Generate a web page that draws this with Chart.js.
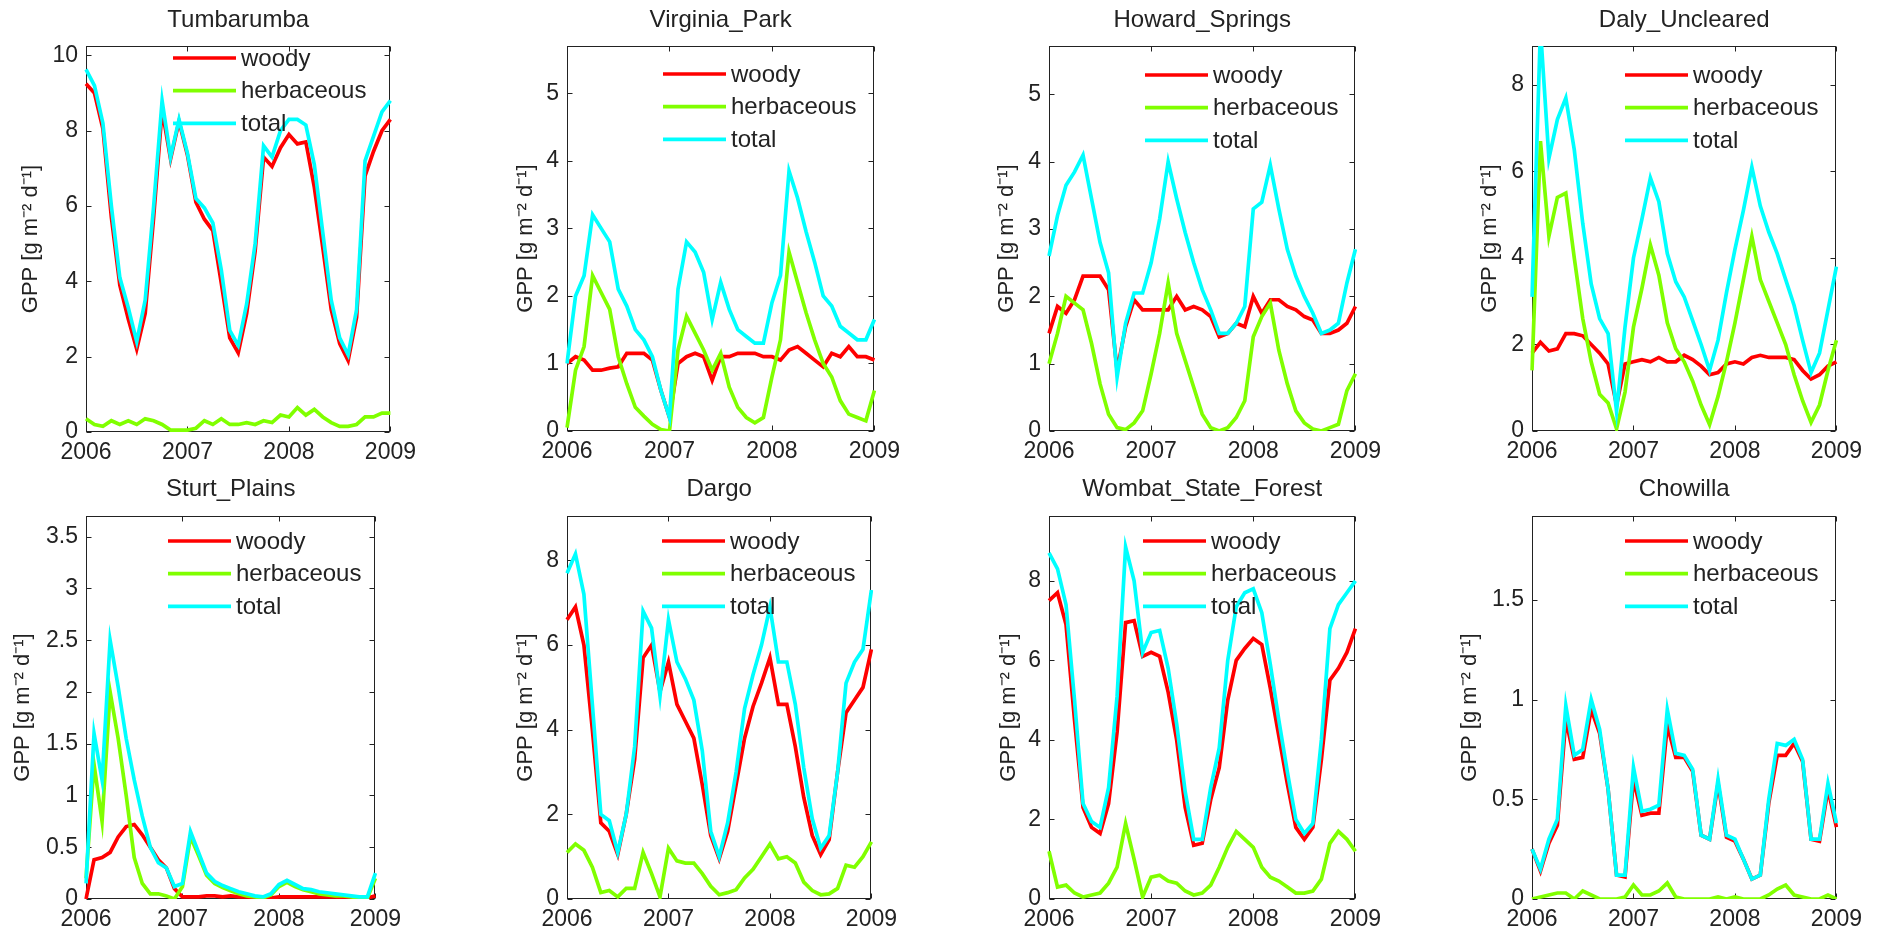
<!DOCTYPE html>
<html>
<head>
<meta charset="utf-8">
<title>GPP by site, 2006-2009</title>
<script src="https://cdn.jsdelivr.net/npm/chart.js@4.4.1/dist/chart.umd.min.js"></script>
<style>
  html, body { margin: 0; padding: 0; background: #fff; overflow: hidden; }
  body { width: 1883px; height: 931px; position: relative; }
  canvas { position: absolute; }
</style>
</head>
<body>
<script>
// monthly samples, Jan 2006 .. Jan 2009
const months = [
  '2006-01','2006-02','2006-03','2006-04','2006-05','2006-06','2006-07','2006-08','2006-09','2006-10','2006-11','2006-12',
  '2007-01','2007-02','2007-03','2007-04','2007-05','2007-06','2007-07','2007-08','2007-09','2007-10','2007-11','2007-12',
  '2008-01','2008-02','2008-03','2008-04','2008-05','2008-06','2008-07','2008-08','2008-09','2008-10','2008-11','2008-12',
  '2009-01'
];
const yearTicks = ['2006', '2007', '2008', '2009'];
const seriesNames = ['woody', 'herbaceous', 'total'];
const yLabel = 'GPP [g m\u207B\u00B2 d\u207B\u00B9]';

// GPP values (g m-2 d-1)
const tumbWoody = [9.25,9.0,8.05,5.7,3.9,3.0,2.2,3.15,5.7,8.55,7.25,8.25,7.35,6.1,5.65,5.35,3.95,2.5,2.1,3.15,4.8,7.3,7.05,7.55,7.9,7.65,7.7,6.5,4.9,3.25,2.35,1.9,3.05,6.8,7.45,8.0,8.3];
const tumbHerb  = [0.35,0.2,0.15,0.3,0.2,0.3,0.2,0.35,0.3,0.2,0.05,0.05,0.05,0.1,0.3,0.2,0.35,0.2,0.2,0.25,0.2,0.3,0.25,0.45,0.4,0.65,0.45,0.6,0.4,0.25,0.15,0.15,0.2,0.4,0.4,0.5,0.5];
const tumbTotal = [9.63,9.2,8.2,6.0,4.1,3.3,2.4,3.5,6.0,8.8,7.3,8.3,7.4,6.2,5.95,5.55,4.3,2.7,2.3,3.4,5.0,7.6,7.3,8.0,8.3,8.3,8.15,7.1,5.3,3.5,2.5,2.05,3.25,7.2,7.85,8.5,8.8];

const virgWoody = [1.0,1.1,1.05,0.9,0.9,0.93,0.95,1.15,1.15,1.15,1.05,0.6,0.2,1.0,1.1,1.15,1.1,0.75,1.1,1.1,1.15,1.15,1.15,1.1,1.1,1.05,1.2,1.25,1.15,1.05,0.95,1.15,1.1,1.25,1.1,1.1,1.05];
const virgHerb  = [0.05,0.9,1.25,2.3,2.05,1.8,1.1,0.7,0.35,0.22,0.1,0.02,0.0,1.2,1.7,1.45,1.2,0.9,1.15,0.65,0.35,0.2,0.12,0.2,0.8,1.35,2.65,2.2,1.75,1.35,1.0,0.8,0.45,0.25,0.2,0.15,0.6];
const virgTotal = [1.0,2.0,2.3,3.2,3.0,2.8,2.1,1.85,1.5,1.35,1.1,0.6,0.2,2.1,2.8,2.65,2.35,1.65,2.2,1.8,1.5,1.4,1.3,1.3,1.9,2.3,3.85,3.45,2.95,2.5,2.0,1.85,1.55,1.45,1.35,1.35,1.65];

const howaWoody = [1.45,1.85,1.75,1.95,2.3,2.3,2.3,2.1,0.9,1.55,1.95,1.8,1.8,1.8,1.8,2.0,1.8,1.85,1.8,1.7,1.4,1.45,1.6,1.55,2.0,1.75,1.95,1.95,1.85,1.8,1.7,1.65,1.45,1.45,1.5,1.6,1.85];
const howaHerb  = [1.0,1.45,2.0,1.9,1.8,1.3,0.7,0.25,0.05,0.02,0.12,0.3,0.85,1.45,2.2,1.45,1.05,0.65,0.25,0.05,0.0,0.05,0.2,0.45,1.4,1.7,1.9,1.2,0.7,0.3,0.12,0.03,0.0,0.05,0.1,0.6,0.85];
const howaTotal = [2.6,3.2,3.65,3.85,4.1,3.45,2.8,2.35,0.8,1.6,2.05,2.05,2.5,3.15,4.0,3.45,2.95,2.5,2.1,1.8,1.45,1.45,1.6,1.85,3.3,3.4,3.95,3.3,2.7,2.3,2.0,1.75,1.45,1.5,1.6,2.2,2.7];

const dalyWoody = [1.8,2.05,1.85,1.9,2.25,2.25,2.2,2.0,1.8,1.55,0.6,1.55,1.6,1.65,1.6,1.7,1.6,1.6,1.75,1.65,1.5,1.3,1.35,1.55,1.6,1.55,1.7,1.75,1.7,1.7,1.7,1.65,1.4,1.2,1.3,1.5,1.6];
const dalyHerb  = [1.4,6.7,4.5,5.4,5.5,4.0,2.6,1.6,0.85,0.65,0.05,0.9,2.4,3.3,4.3,3.6,2.5,1.9,1.6,1.15,0.6,0.15,0.8,1.6,2.5,3.5,4.5,3.5,3.0,2.5,2.0,1.3,0.7,0.2,0.6,1.4,2.1];
const dalyTotal = [3.1,9.3,6.3,7.2,7.7,6.5,4.8,3.4,2.6,2.25,0.45,2.4,4.0,4.9,5.85,5.3,4.1,3.45,3.1,2.55,2.0,1.4,2.1,3.2,4.2,5.1,6.1,5.2,4.6,4.1,3.5,2.9,2.1,1.35,1.8,2.8,3.8];

const sturWoody = [0.0,0.38,0.4,0.45,0.6,0.7,0.72,0.62,0.5,0.38,0.3,0.1,0.02,0.02,0.02,0.03,0.03,0.02,0.03,0.02,0.02,0.01,0.01,0.01,0.02,0.02,0.02,0.02,0.02,0.02,0.02,0.02,0.01,0.01,0.01,0.01,0.03];
const sturHerb  = [0.2,1.3,0.75,2.0,1.55,1.0,0.4,0.15,0.05,0.05,0.03,0.0,0.12,0.6,0.42,0.23,0.15,0.11,0.08,0.05,0.03,0.02,0.01,0.04,0.12,0.16,0.12,0.09,0.07,0.05,0.04,0.03,0.03,0.02,0.01,0.01,0.2];
const sturTotal = [0.15,1.6,1.15,2.5,2.05,1.55,1.15,0.8,0.5,0.35,0.3,0.12,0.15,0.65,0.45,0.25,0.17,0.13,0.1,0.07,0.05,0.03,0.02,0.05,0.14,0.18,0.14,0.1,0.09,0.07,0.06,0.05,0.04,0.03,0.02,0.02,0.25];

const dargWoody = [6.6,6.9,6.0,4.0,1.8,1.6,1.05,2.0,3.3,5.7,6.0,4.9,5.6,4.6,4.2,3.8,2.7,1.5,0.95,1.6,2.7,3.8,4.55,5.1,5.7,4.6,4.6,3.6,2.4,1.5,1.05,1.4,3.0,4.4,4.7,5.0,5.9];
const dargHerb  = [1.1,1.3,1.15,0.75,0.15,0.2,0.05,0.25,0.25,1.1,0.6,0.05,1.2,0.9,0.85,0.85,0.6,0.3,0.1,0.15,0.22,0.5,0.7,1.0,1.3,0.95,1.0,0.85,0.4,0.2,0.1,0.12,0.25,0.8,0.75,1.0,1.35];
const dargTotal = [7.7,8.15,7.2,4.6,2.0,1.85,1.1,2.0,3.6,6.8,6.4,4.8,6.6,5.6,5.2,4.7,3.5,1.6,1.0,1.8,3.0,4.5,5.3,6.0,6.9,5.6,5.6,4.6,3.1,1.9,1.2,1.5,3.0,5.1,5.6,5.9,7.3];

const womWoody = [7.5,7.7,6.9,4.5,2.3,1.8,1.65,2.4,4.2,6.95,7.0,6.1,6.2,6.1,5.2,4.0,2.3,1.35,1.4,2.5,3.3,5.0,6.0,6.3,6.55,6.4,5.3,4.1,2.9,1.8,1.5,1.8,3.5,5.5,5.8,6.2,6.8];
const womHerb  = [1.2,0.3,0.35,0.15,0.05,0.1,0.15,0.4,0.8,1.9,1.0,0.05,0.55,0.6,0.45,0.4,0.2,0.1,0.15,0.35,0.8,1.3,1.7,1.5,1.3,0.8,0.55,0.45,0.3,0.15,0.15,0.2,0.5,1.4,1.7,1.5,1.2];
const womTotal = [8.7,8.3,7.4,5.0,2.4,1.95,1.8,2.8,5.1,8.85,8.0,6.2,6.7,6.75,5.8,4.4,2.7,1.5,1.5,2.8,3.8,6.0,7.35,7.7,7.8,7.2,5.9,4.5,3.2,2.0,1.65,1.9,4.0,6.8,7.4,7.7,8.0];

const chowWoody = [0.25,0.14,0.28,0.37,0.9,0.7,0.71,0.95,0.83,0.55,0.12,0.11,0.6,0.42,0.43,0.43,0.87,0.71,0.71,0.64,0.32,0.3,0.58,0.31,0.29,0.2,0.1,0.12,0.48,0.72,0.72,0.78,0.69,0.3,0.29,0.55,0.36];
const chowHerb  = [0.0,0.01,0.02,0.03,0.03,0.0,0.04,0.02,0.0,0.0,0.0,0.01,0.07,0.02,0.02,0.04,0.08,0.01,0.0,0.0,0.0,0.0,0.01,0.0,0.01,0.0,0.0,0.0,0.02,0.05,0.07,0.02,0.01,0.0,0.0,0.02,0.0];
const chowTotal = [0.25,0.15,0.3,0.4,0.97,0.72,0.75,1.0,0.85,0.55,0.12,0.12,0.66,0.44,0.45,0.47,0.95,0.73,0.72,0.65,0.32,0.3,0.6,0.32,0.3,0.2,0.1,0.12,0.5,0.78,0.77,0.8,0.7,0.3,0.3,0.58,0.38];

// axis limits per site
const yMaxes = [10.25, 5.7, 5.72, 8.9, 3.7, 9.05, 9.63, 1.92];
const ySteps = [2, 1, 1, 2, 0.5, 2, 2, 0.5];

// layout: axes box [left, right, top, bottom] in page px, y-axis width, legend offset
const panels = [
  { name: 'Tumbarumba',         w: tumbWoody, h: tumbHerb, t: tumbTotal, box: [86, 393, 46, 432],    padL: 68, leg: [87, 12] },
  { name: 'Virginia_Park',      w: virgWoody, h: virgHerb, t: virgTotal, box: [567, 877, 46, 431],   padL: 54, leg: [96, 28] },
  { name: 'Howard_Springs',     w: howaWoody, h: howaHerb, t: howaTotal, box: [1049, 1358, 46, 431], padL: 55, leg: [96, 29] },
  { name: 'Daly_Uncleared',     w: dalyWoody, h: dalyHerb, t: dalyTotal, box: [1532, 1839, 46, 431], padL: 55, leg: [93, 29] },
  { name: 'Sturt_Plains',       w: sturWoody, h: sturHerb, t: sturTotal, box: [86, 378, 516, 899],   padL: 76, leg: [82, 25] },
  { name: 'Dargo',              w: dargWoody, h: dargHerb, t: dargTotal, box: [567, 874, 516, 899],  padL: 54, leg: [95, 25] },
  { name: 'Wombat_State_Forest',w: womWoody,  h: womHerb,  t: womTotal,  box: [1049, 1358, 516, 899],padL: 53, leg: [94, 25] },
  { name: 'Chowilla',           w: chowWoody, h: chowHerb, t: chowTotal, box: [1532, 1839, 516, 899],padL: 75, leg: [93, 25] }
];

const TEXT = '#222';
const FAMILY = "'Liberation Sans', Arial, sans-serif";
const colors = ['#ff0000', '#80ff00', '#00ffff'];
const LINE_W = 3.7;
Chart.defaults.font.family = FAMILY;
Chart.defaults.color = TEXT;

const yearIdx = months.map((m, i) => m.endsWith('-01') ? i : -1).filter(i => i >= 0);

// matlab style box with inward ticks
const boxTicks = {
  id: 'boxTicks',
  beforeDatasetsDraw(chart) {
    const { ctx, chartArea: a, scales } = chart;
    ctx.save();
    ctx.strokeStyle = TEXT;
    ctx.lineWidth = 1;
    const l = Math.round(a.left) + 0.5, r = Math.round(a.right) - 0.5;
    const t = Math.round(a.top) + 0.5, b = Math.round(a.bottom) - 0.5;
    ctx.strokeRect(l, t, r - l, b - t);
    ctx.beginPath();
    scales.y.ticks.forEach(tk => {
      const y = Math.round(scales.y.getPixelForValue(tk.value)) + 0.5;
      ctx.moveTo(l, y); ctx.lineTo(l + 5, y);
      ctx.moveTo(r, y); ctx.lineTo(r - 5, y);
    });
    yearIdx.forEach(i => {
      const x = Math.round(scales.x.getPixelForValue(i)) + 0.5;
      ctx.moveTo(x, b); ctx.lineTo(x, b - 5);
      ctx.moveTo(x, t); ctx.lineTo(x, t + 5);
    });
    ctx.stroke();
    ctx.restore();
  }
};

// legend drawn inside the axes, no frame
const insetLegend = {
  id: 'insetLegend',
  afterDatasetsDraw(chart, args, opts) {
    const { ctx, chartArea: a } = chart;
    ctx.save();
    ctx.font = '24px ' + FAMILY;
    ctx.textBaseline = 'middle';
    ctx.textAlign = 'left';
    seriesNames.forEach((name, i) => {
      const x0 = a.left + opts.dx;
      const y = a.top + opts.dy + i * 32.7;
      ctx.strokeStyle = colors[i];
      ctx.lineWidth = LINE_W;
      ctx.beginPath();
      ctx.moveTo(x0, y);
      ctx.lineTo(x0 + 63, y);
      ctx.stroke();
      ctx.fillStyle = TEXT;
      ctx.fillText(name, x0 + 68, y + 1);
    });
    ctx.restore();
  }
};

panels.forEach((p, i) => {
  const [L, R, T, B] = p.box;
  const padT = 46, padB = 32, padR = 30;
  const cw = p.padL + (R - L) + padR;
  const ch = padT + (B - T) + padB;
  const cv = document.createElement('canvas');
  cv.width = cw; cv.height = ch;
  cv.style.width = cw + 'px'; cv.style.height = ch + 'px';
  cv.style.left = (L - p.padL) + 'px';
  cv.style.top = (T - padT) + 'px';
  document.body.appendChild(cv);

  const series = [p.w, p.h, p.t];
  new Chart(cv, {
    type: 'line',
    data: {
      labels: months,
      datasets: series.map((d, k) => ({
        label: seriesNames[k],
        data: d,
        borderColor: colors[k],
        backgroundColor: colors[k],
        borderWidth: LINE_W,
        pointRadius: 0,
        tension: 0,
        order: 2 - k
      }))
    },
    options: {
      responsive: false,
      animation: false,
      devicePixelRatio: 1,
      events: [],
      layout: { padding: { right: padR } },
      plugins: {
        legend: { display: false },
        tooltip: { enabled: false },
        title: {
          display: true,
          text: p.name,
          fullSize: false,
          color: TEXT,
          font: { size: 24, weight: 'normal' },
          padding: i < 4 ? { top: 6, bottom: 11.2 } : { top: 4.6, bottom: 12.6 }
        },
        insetLegend: { dx: p.leg[0], dy: p.leg[1] }
      },
      scales: {
        x: {
          grid: { display: false, drawTicks: false },
          border: { display: false },
          ticks: {
            autoSkip: false,
            maxRotation: 0,
            minRotation: 0,
            padding: 7,
            font: { size: 23 },
            callback(v) {
              const lab = this.getLabelForValue(v);
              const yr = lab.slice(0, 4);
              return lab.endsWith('-01') && yearTicks.includes(yr) ? yr : '';
            }
          },
          afterFit(s) { s.height = padB; }
        },
        y: {
          min: 0,
          max: yMaxes[i],
          grid: { display: false, drawTicks: false },
          border: { display: false },
          ticks: {
            stepSize: ySteps[i],
            includeBounds: false,
            padding: 8,
            font: { size: 23 },
            callback: v => String(v)
          },
          title: {
            display: true,
            text: yLabel,
            color: TEXT,
            font: { size: 22 },
            padding: 0
          },
          afterFit(s) { s.width = p.padL; }
        }
      }
    },
    plugins: [boxTicks, insetLegend]
  });
});
</script>
</body>
</html>
